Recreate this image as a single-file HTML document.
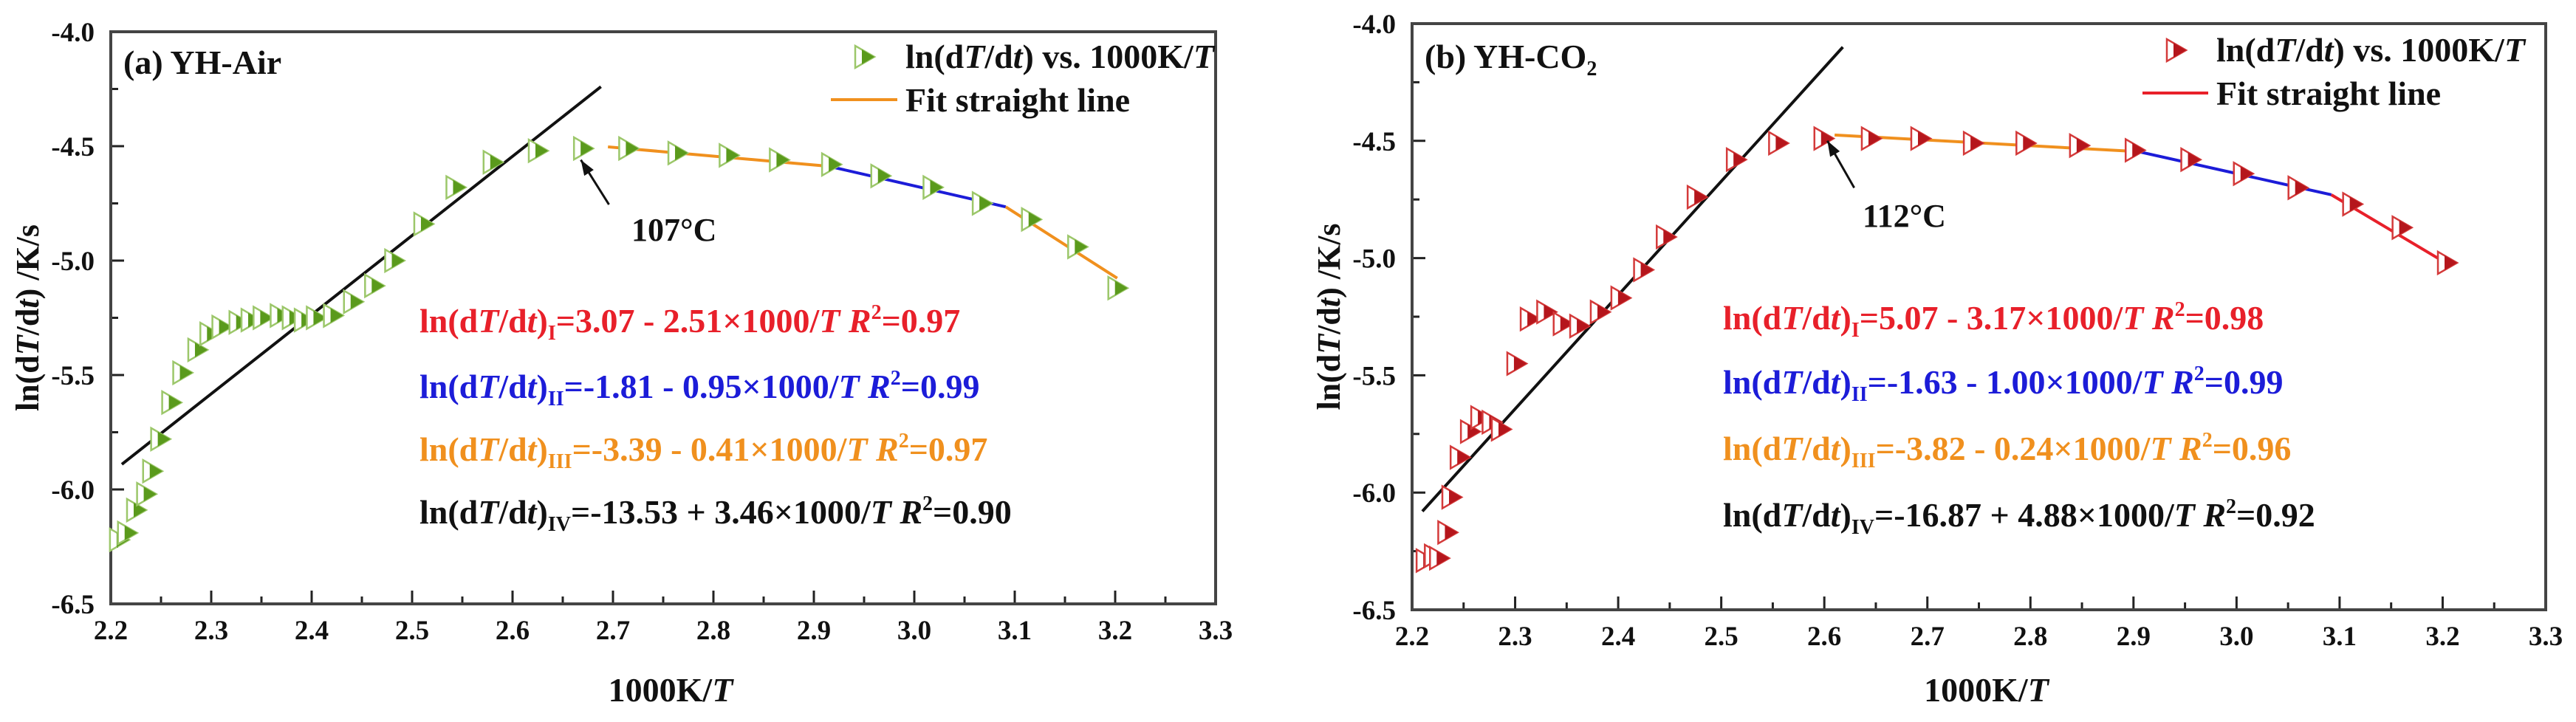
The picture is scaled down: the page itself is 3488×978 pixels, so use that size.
<!DOCTYPE html>
<html><head><meta charset="utf-8"><style>
html,body{margin:0;padding:0;background:#fff;}
svg{display:block;font-family:"Liberation Serif",serif;font-weight:bold;}
</style></head><body>
<svg id="chart" width="3488" height="978" viewBox="0 0 3488 978" xmlns="http://www.w3.org/2000/svg"></svg>
<script>
const xA = [2.208,2.216,2.225,2.235,2.241,2.249,2.260,2.271,2.286,2.298,2.310,2.327,2.339,2.351,2.368,2.380,2.392,2.404,2.421,2.441,2.462,2.482,2.511,2.543,2.580,2.625,2.670,2.715,2.764,2.815,2.865,2.917,2.966,3.018,3.067,3.116,3.162,3.202];
const yA = [-6.22,-6.19,-6.09,-6.02,-5.92,-5.78,-5.62,-5.49,-5.39,-5.32,-5.29,-5.27,-5.26,-5.25,-5.24,-5.25,-5.26,-5.25,-5.24,-5.18,-5.11,-5.00,-4.84,-4.68,-4.57,-4.52,-4.51,-4.51,-4.53,-4.54,-4.56,-4.58,-4.63,-4.68,-4.75,-4.82,-4.94,-5.12];
const xB = [2.213,2.221,2.226,2.234,2.238,2.246,2.256,2.266,2.277,2.286,2.301,2.314,2.330,2.346,2.362,2.382,2.402,2.424,2.446,2.476,2.514,2.555,2.599,2.645,2.693,2.744,2.795,2.847,2.901,2.955,3.006,3.059,3.112,3.160,3.204];
const yB = [-6.29,-6.27,-6.28,-6.17,-6.02,-5.85,-5.74,-5.68,-5.70,-5.73,-5.45,-5.26,-5.23,-5.28,-5.29,-5.23,-5.17,-5.05,-4.91,-4.74,-4.58,-4.51,-4.49,-4.49,-4.49,-4.51,-4.51,-4.52,-4.54,-4.58,-4.64,-4.70,-4.77,-4.87,-5.02];
const fitsA_x = [[2.211,2.688],[2.695,2.915],[2.915,3.091],[3.091,3.202]];
const fitsA_y = [[-5.89,-4.24],[-4.503,-4.588],[-4.588,-4.765],[-4.765,-5.077]];
const fitsB_x = [[2.210,2.618],[2.610,2.905],[2.905,3.092],[3.092,3.204]];
const fitsB_y = [[-6.08,-4.10],[-4.475,-4.546],[-4.546,-4.730],[-4.730,-5.023]];
const xTicks = [2.2,2.3,2.4,2.5,2.6,2.7,2.8,2.9,3.0,3.1,3.2,3.3];
const yTicks = [-4.0,-4.5,-5.0,-5.5,-6.0,-6.5];
const xTickLabels = ["2.2","2.3","2.4","2.5","2.6","2.7","2.8","2.9","3.0","3.1","3.2","3.3"];
const yTickLabels = ["-4.0","-4.5","-5.0","-5.5","-6.0","-6.5"];

const NS = "http://www.w3.org/2000/svg";
const svg = document.getElementById('chart');
function mk(tag, attrs, parent){
  const e = document.createElementNS(NS, tag);
  for (const k in attrs) e.setAttribute(k, attrs[k]);
  (parent||svg).appendChild(e);
  return e;
}
function marker(parent, x, y, stroke, fill){
  mk('polygon',{points:`${x-12},${y-15} ${x-12},${y+15} ${x+14},${y}`,fill:'#fff',stroke:stroke,'stroke-width':2.5},parent);
  mk('polygon',{points:`${x-3},${y-10} ${x+14},${y} ${x-3},${y+10}`,fill:fill},parent);
}
function panel(cfg){
  const g = mk('g', {});
  
  
  const L=cfg.L, R=cfg.R, T=cfg.T, B=cfg.B;
  const sx = v => L + (v-2.2)/(3.3-2.2)*(R-L);
  const sy = v => T + (-4.0 - v)/2.5*(B-T);
  const tg = mk('g', {}, g);
  
  
  xTicks.forEach((v,i)=>{
    const x = sx(v);
    mk('line',{x1:x,y1:B,x2:x,y2:B-18,stroke:'#222','stroke-width':3},tg);
    if (i<xTicks.length-1){ const xm = sx(v+0.05); mk('line',{x1:xm,y1:B,x2:xm,y2:B-10,stroke:'#222','stroke-width':3},tg); }
    const t = mk('text',{x:x,y:B+48,'text-anchor':'middle','font-size':37,fill:'#111'},tg);
    t.textContent = xTickLabels[i];
  });
  const yg = mk('g', {}, g);
  
  
  yTicks.forEach((v,i)=>{
    const y = sy(v);
    mk('line',{x1:L,y1:y,x2:L+18,y2:y,stroke:'#222','stroke-width':3},yg);
    if (i<yTicks.length-1){ const ym = sy(v-0.25); mk('line',{x1:L,y1:ym,x2:L+10,y2:ym,stroke:'#222','stroke-width':3},yg); }
    const t = mk('text',{x:cfg.ytx,y:y+13,'text-anchor':'end','font-size':37,fill:'#111'},yg);
    t.textContent = yTickLabels[i];
  });
  const fr = mk('rect',{x:L,y:T,width:R-L,height:B-T,fill:'none',stroke:'#444','stroke-width':4},g);
  
  
  const xt = mk('text',{x:(L+R)/2+10,y:950,'text-anchor':'middle','font-size':46,fill:'#111'},g);
  
  
  xt.innerHTML = '1000K/<tspan font-style="italic">T</tspan>';
  const yt = mk('text',{x:0,y:0,'text-anchor':'middle','font-size':44,fill:'#111',transform:`translate(${cfg.ytitleX},${(T+B)/2}) rotate(-90)`},g);
  
  
  yt.innerHTML = 'ln(d<tspan font-style="italic">T</tspan>/d<tspan font-style="italic">t</tspan>) /K/s';
  cfg.fx.forEach((fx,i)=>{
    const ln = mk('line',{x1:sx(fx[0]),y1:sy(cfg.fy[i][0]),x2:sx(fx[1]),y2:sy(cfg.fy[i][1]),stroke:cfg.fitColors[i],'stroke-width':4},g);
    
    
  });
  const mg = mk('g', {}, g);
  
  
  cfg.xs.forEach((xv,i)=>{
    const m = mk('g',{},mg);
    
    
    marker(m, sx(xv), sy(cfg.ys[i]), cfg.mstroke, cfg.mfill);
  });
  const ag = mk('g',{},g);
  
  
  const ax1=sx(cfg.arrow[0]), ay1=sy(cfg.arrow[1]), ax2=sx(cfg.arrow[2]), ay2=sy(cfg.arrow[3]);
  mk('line',{x1:ax1,y1:ay1,x2:ax2,y2:ay2,stroke:'#111','stroke-width':3},ag);
  const ang = Math.atan2(ay2-ay1, ax2-ax1);
  const hx=(a,l)=>ax2 - l*Math.cos(ang+a), hy=(a,l)=>ay2 - l*Math.sin(ang+a);
  mk('polygon',{points:`${ax2},${ay2} ${hx(0.35,22)},${hy(0.35,22)} ${hx(-0.35,22)},${hy(-0.35,22)}`,fill:'#111'},ag);
  const at = mk('text',{x:cfg.tempX,y:cfg.tempY,'font-size':44,fill:'#111'},g);
  
  
  at.textContent = cfg.temp;
  const tt = mk('text',{x:L+17,y:cfg.titleY,'font-size':46,fill:'#111'},g);
  
  
  tt.innerHTML = cfg.title;
  const lg = mk('g',{},g);
  
  
  const lx=cfg.legX, ly=cfg.legY;
  marker(lg, lx, ly, cfg.mstroke, cfg.mfill);
  const l1 = mk('text',{x:cfg.legTX,y:ly+15,'font-size':46,fill:'#111'},lg);
  l1.innerHTML = 'ln(d<tspan font-style="italic">T</tspan>/d<tspan font-style="italic">t</tspan>) vs. 1000K/<tspan font-style="italic">T</tspan>';
  mk('line',{x1:cfg.legLX1,y1:ly+58,x2:cfg.legLX2,y2:ly+58,stroke:cfg.legLine,'stroke-width':4},lg);
  const l2 = mk('text',{x:cfg.legTX,y:ly+74,'font-size':46,fill:'#111'},lg);
  l2.textContent = 'Fit straight line';
  const eqCols = ['#e8202a','#1c1cd8','#f0901e','#111'];
  cfg.eqs.forEach((e,i)=>{
    const t = mk('text',{x:cfg.eqX,y:cfg.eqY[i]+15,'font-size':46,fill:eqCols[i]},g);
    
    
    t.innerHTML = 'ln(d<tspan font-style="italic">T</tspan>/d<tspan font-style="italic">t</tspan>)<tspan font-size="28" dy="10">'+e[0]+'</tspan><tspan dy="-10">'+e[1]+'/</tspan><tspan font-style="italic">T</tspan> <tspan font-style="italic">R</tspan><tspan font-size="28" dy="-18">2</tspan><tspan dy="18">'+e[2]+'</tspan>';
  });
}
panel({id:'panel-a',L:150,R:1646,T:43,B:818,ytx:128,ytitleX:52,
  xs:xA,ys:yA,fx:fitsA_x,fy:fitsA_y,fitColors:['#111','#f0901e','#1c1cd8','#f0901e'],
  mstroke:'#9cc76a',mfill:'#5a9a1c',arrow:[2.696,-4.755,2.668,-4.56],
  temp:'107°C',tempX:855,tempY:326,title:'(a) YH-Air',titleY:100,
  legX:1170,legY:77,legTX:1226,legLX1:1125,legLX2:1215,legLine:'#f0901e',
  eqX:568,eqY:[435,524,609,694],
  eqs:[['I','=3.07 - 2.51×1000','=0.97'],['II','=-1.81 - 0.95×1000','=0.99'],['III','=-3.39 - 0.41×1000','=0.97'],['IV','=-13.53 + 3.46×1000','=0.90']]});
panel({id:'panel-b',L:1912,R:3447,T:32,B:826,ytx:1890,ytitleX:1814,
  xs:xB,ys:yB,fx:fitsB_x,fy:fitsB_y,fitColors:['#111','#f0901e','#1c1cd8','#e8202a'],
  mstroke:'#d43a3a',mfill:'#b5161c',arrow:[2.629,-4.70,2.603,-4.50],
  temp:'112°C',tempX:2522,tempY:307,title:'(b) YH-CO<tspan font-size="28" dy="10">2</tspan>',titleY:92,
  legX:2946,legY:68,legTX:3001,legLX1:2901,legLX2:2990,legLine:'#e8202a',
  eqX:2333,eqY:[431,518,608,698],
  eqs:[['I','=5.07 - 3.17×1000','=0.98'],['II','=-1.63 - 1.00×1000','=0.99'],['III','=-3.82 - 0.24×1000','=0.96'],['IV','=-16.87 + 4.88×1000','=0.92']]});
</script>
</body></html>
